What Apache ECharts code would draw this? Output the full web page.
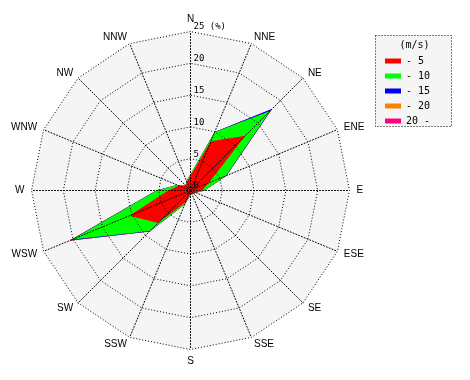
<!DOCTYPE html>
<html><head><meta charset="utf-8">
<script src="https://cdn.jsdelivr.net/npm/echarts@6/dist/echarts.min.js"></script>
<style>html,body{margin:0;padding:0;background:#fff}#c{width:470px;height:380px}</style>
</head><body><div id="c"></div>
<script>
// Directions, clockwise from North
const directions = ['N','NNE','NE','ENE','E','ESE','SE','SSE','S','SSW','SW','WSW','W','WNW','NW','NNW'];
// Wind speed classes (m/s)
const speedClasses = ['- 5','- 10','- 15','- 20','20 -'];
const classColors = ['#ff0000','#00ff00','#0000ff','#ff8000','#ff0080'];
// Frequency (%) per class and direction (non-cumulative)
const speed0to5   = [2.3, 8.4, 12.2, 3.1, 1.8, 0.8, 0.6, 0.5, 0.6, 2.0, 7.2, 10.4, 3.5, 2.0, 1.0, 1.5];
const speed5to10  = [0.2, 1.5, 5.5, 2.9, 0.4, 0.1, 0.1, 0.1, 0.1, 0.4, 1.8, 9.7, 1.8, 0.3, 0.1, 0.1];
const speed10to15 = [0, 0.05, 0.4, 0.1, 0, 0, 0, 0, 0, 0, 0.1, 0.4, 0.05, 0, 0, 0];
const speed15to20 = [0, 0, 0.05, 0, 0, 0, 0, 0, 0, 0, 0, 0.1, 0, 0, 0, 0];
const speedOver20 = [0, 0, 0, 0, 0, 0, 0, 0, 0, 0, 0, 0.05, 0, 0, 0, 0];
const radiusMax = 25;
const radiusSplits = 5;

const bins = [speed0to5, speed5to10, speed10to15, speed15to20, speedOver20];
const cum = [];
bins.forEach((b, k) => cum.push(b.map((v, i) => v + (k ? cum[k-1][i] : 0))));
// radar places indicators counter-clockwise: reorder
const order = directions.map((d, i) => (16 - i) % 16);

const dotted = {color: '#000', width: 1, type: [1, 2]};
const nameFont = {color: '#000', fontSize: 10, fontFamily: '"Liberation Sans Narrow","Liberation Sans",sans-serif'};
const mono = '"DejaVu Sans Mono","Liberation Mono",monospace';
const C = [190.5, 190.5];

const series = [];
for (let k = bins.length - 1; k >= 0; k--) {
  series.push({
    type: 'radar', radarIndex: 0, name: speedClasses[k], silent: true, symbol: 'none',
    lineStyle: {width: 0, opacity: 0},
    itemStyle: {color: classColors[k]},
    areaStyle: {color: classColors[k], opacity: 1},
    data: [{name: speedClasses[k], value: order.map(i => cum[k][i])}]
  });
}

const chart = echarts.init(document.getElementById('c'), null, {renderer: 'canvas'});
chart.setOption({
  animation: false,
  backgroundColor: '#fff',
  radar: [{
    center: C, radius: 159, startAngle: 90, shape: 'polygon', splitNumber: radiusSplits, z: 0,
    indicator: order.map(i => ({name: directions[i], min: 0, max: radiusMax})),
    axisName: nameFont, axisNameGap: 7,
    splitArea: {show: true, areaStyle: {color: ['#f5f5f5']}},
    splitLine: {show: false}, axisLine: {show: false}, axisTick: {show: false}, axisLabel: {show: false}
  }, {
    center: C, radius: 159, startAngle: 90, shape: 'polygon', splitNumber: radiusSplits, z: 10,
    indicator: order.map((i, j) => {
      const o = {name: '', min: 0, max: radiusMax};
      if (j === 0) o.axisLabel = {show: true, color: '#000', fontSize: 9, fontFamily: mono, margin: -3,
        align: 'left', verticalAlign: 'bottom',
        formatter: v => (v === radiusMax ? v + ' (%)' : String(v))};
      return o;
    }),
    axisName: {show: false},
    splitArea: {show: false},
    splitLine: {show: true, lineStyle: dotted},
    axisLine: {show: true, lineStyle: dotted},
    axisTick: {show: false}, axisLabel: {show: false}
  }],
  legend: {
    orient: 'vertical', left: 380, top: 50, itemWidth: 16, itemHeight: 5, itemGap: 3, icon: 'rect',
    data: speedClasses, selectedMode: false,
    textStyle: {color: '#000', fontSize: 10, fontFamily: mono, lineHeight: 12}
  },
  graphic: [{
    type: 'rect', z: 1, shape: {x: 375.5, y: 35.5, width: 76, height: 91},
    style: {fill: '#f5f5f5', stroke: '#000', lineWidth: 1, lineDash: [1, 2]}
  }, {
    type: 'text', z: 2, x: 414.5, y: 45,
    style: {text: '(m/s)', fill: '#000', font: '10px ' + mono, align: 'center', verticalAlign: 'middle'}
  }],
  series: series
});
</script></body></html>
